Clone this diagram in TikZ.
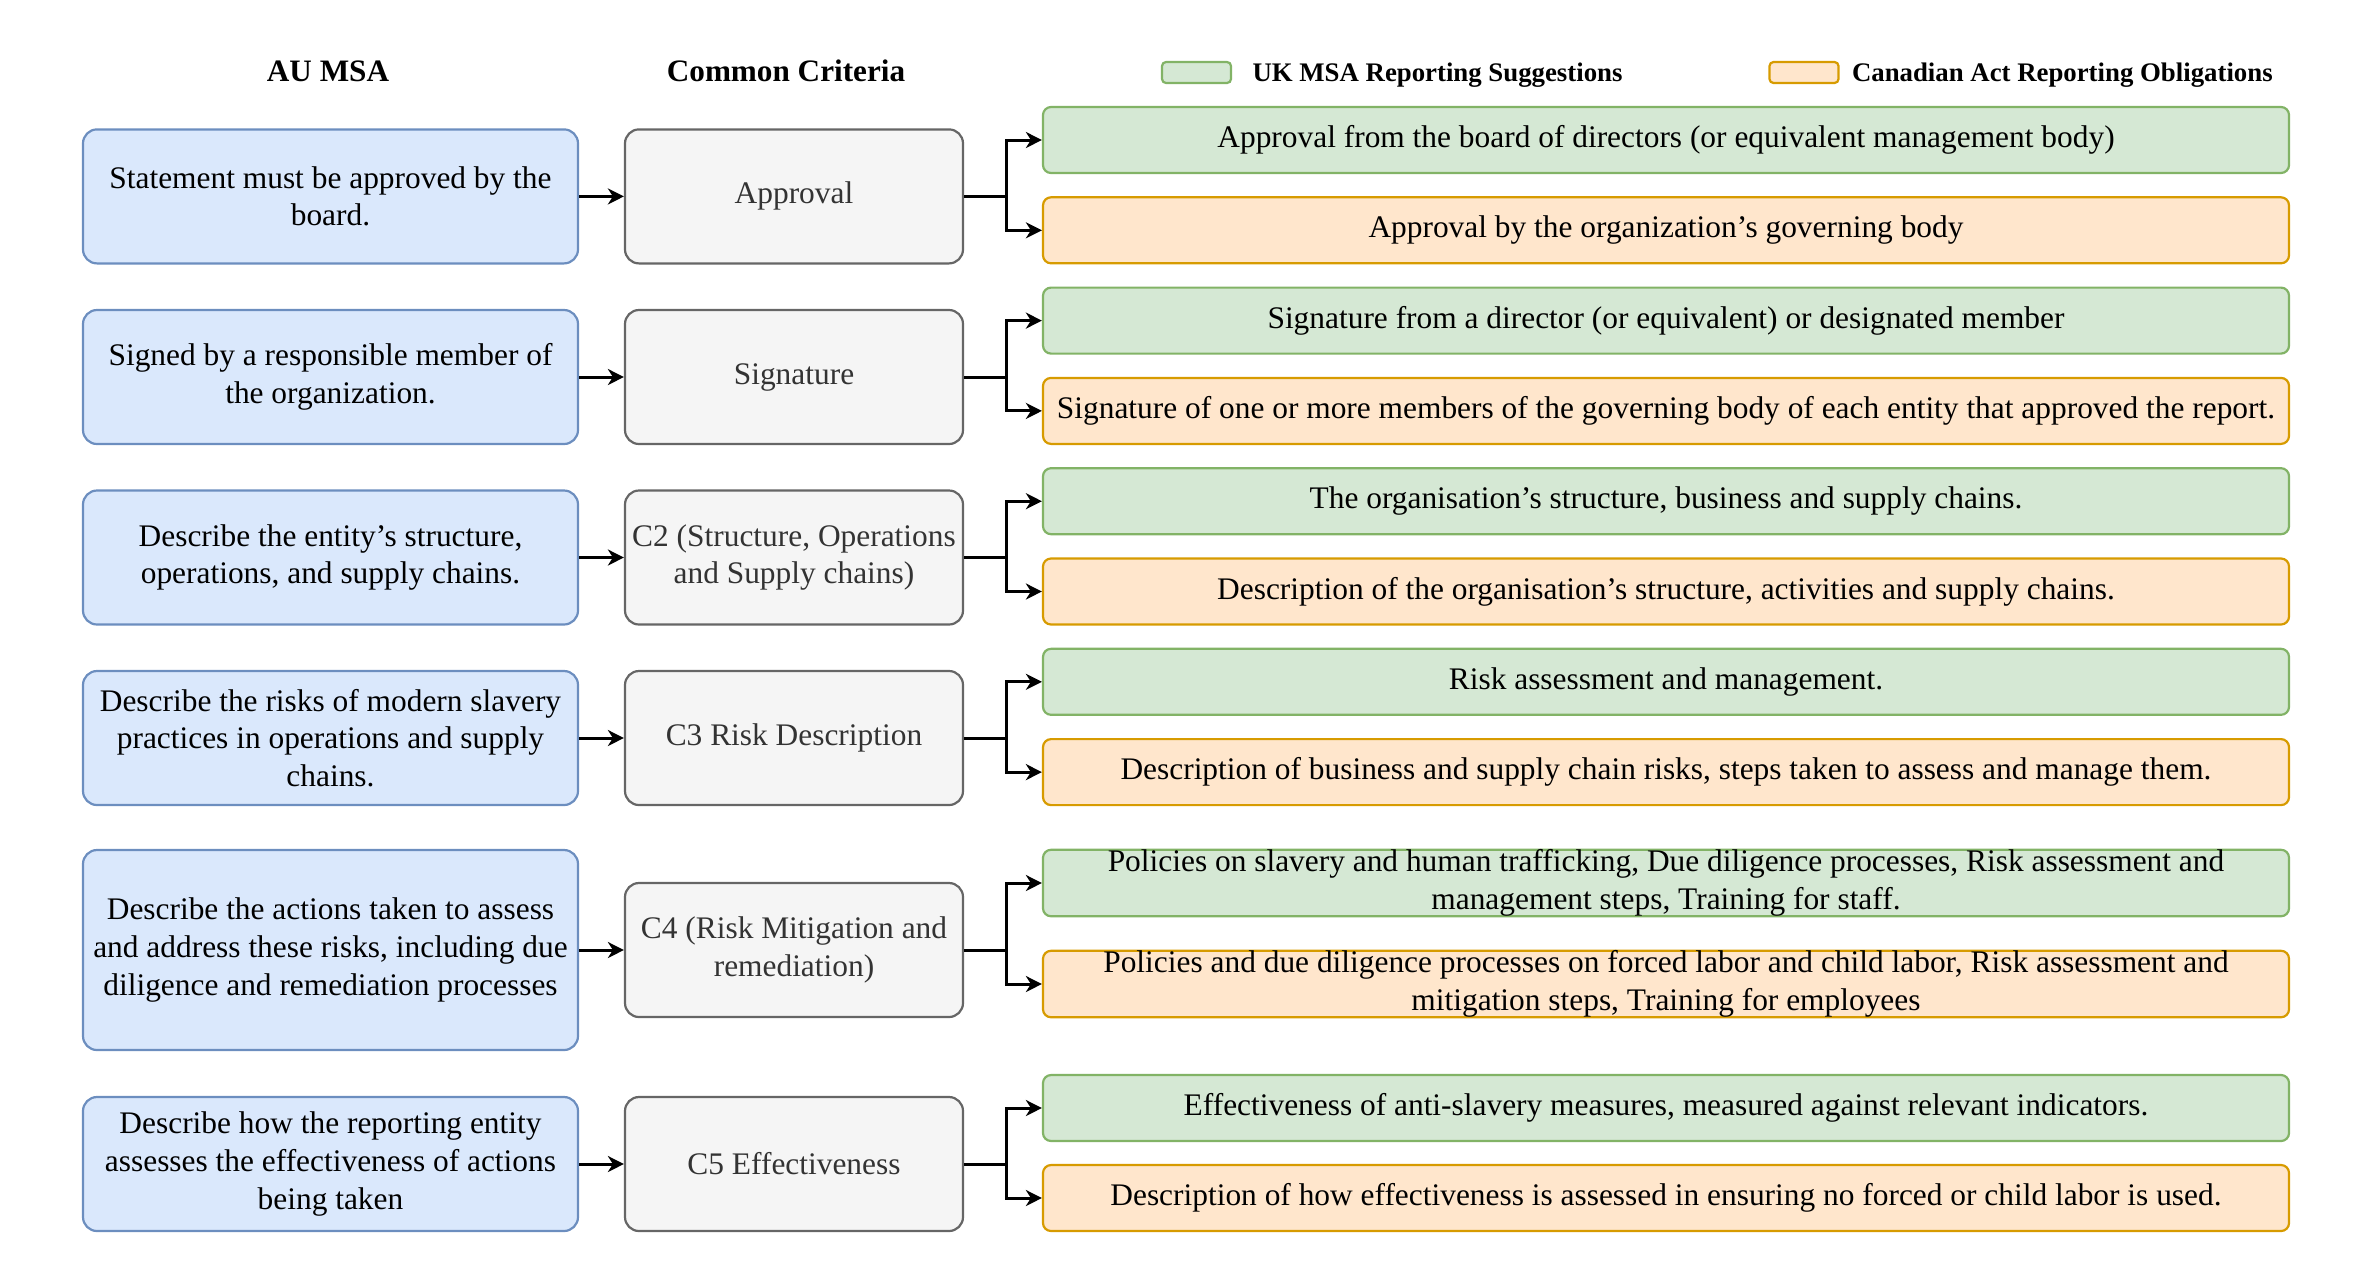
\documentclass[tikz,border=0pt]{standalone}
\usepackage{fontspec}
\setmainfont{Liberation Serif}
\newfontfamily\boxfont{Liberation Serif}
\usetikzlibrary{arrows.meta,positioning}
\definecolor{aufill}{HTML}{DAE8FC} \definecolor{audraw}{HTML}{6C8EBF}
\definecolor{ccfill}{HTML}{F5F5F5} \definecolor{ccdraw}{HTML}{666666} \definecolor{cctext}{HTML}{333333}
\definecolor{ukfill}{HTML}{D5E8D4} \definecolor{ukdraw}{HTML}{82B366}
\definecolor{cafill}{HTML}{FFE6CC} \definecolor{cadraw}{HTML}{D79B00}
\begin{document}
\begin{tikzpicture}[x=0.5pt,y=-0.5pt]
	% Define the styles for the boxes and arrows
	\tikzstyle{basebox}=[rounded corners=7pt, line width=1.1pt, align=center, inner xsep=2pt,
	inner ysep=0pt, font=\boxfont\fontsize{15.7pt}{18.8pt}\selectfont]
	\tikzstyle{aubox}=[basebox, fill=aufill, draw=audraw, minimum width=247.5pt, minimum height=67pt]
	\tikzstyle{ccbox}=[basebox, fill=ccfill, draw=ccdraw, text=cctext, minimum width=169pt, minimum height=67pt]
	\tikzstyle{ukbox}=[basebox, fill=ukfill, draw=ukdraw, minimum width=623pt, minimum height=33pt, rounded corners=4pt]
	\tikzstyle{cabox}=[basebox, fill=cafill, draw=cadraw, minimum width=623pt, minimum height=33pt, rounded corners=4pt]
	\tikzstyle{head}=[font=\boxfont\fontsize{15.6pt}{18pt}\selectfont\bfseries]
	\tikzstyle{legtext}=[font=\boxfont\fontsize{13.4pt}{15pt}\selectfont\bfseries, inner sep=0pt, yshift=-1.5pt]
	\tikzstyle{arr}=[-{Stealth[length=8pt,width=8pt,inset=2.5pt]}, line width=1.5pt]
	
	\useasboundingbox (0,0) rectangle (2360,1266);
	
	% Column headers and legend
	\node[head] (hau) at (328,71) {AU MSA}; \node[head] (hcc) at (786,71) {Common Criteria};
	\node[ukbox, minimum width=34.5pt, minimum height=10.5pt, rounded corners=2pt] (lguk) at (1196.5,72.5) {};
	\node[legtext, right=10pt of lguk] (tuk) {UK MSA Reporting Suggestions};
	\node[cabox, minimum width=34.5pt, minimum height=10.5pt, rounded corners=2pt] (lgca) at (1804,72.5) {};
	\node[legtext, right=6pt of lgca] (tca) {Canadian Act Reporting Obligations};
	
	% AU MSA boxes
	\node[aubox] (au1) at (330.5,196.4) {Statement must be approved by the\\board.};
	\node[aubox] (au2) at (330.5,377) {Signed by a responsible member of\\the organization.};
	\node[aubox] (au3) at (330.5,557.5) {Describe the entity’s structure,\\operations, and supply chains.};
	\node[aubox] (au4) at (330.5,738) {Describe the risks of modern slavery\\practices in operations and supply\\chains.};
	\node[aubox, minimum height=100pt] (au5) at (330.5,950) {Describe the actions taken to assess\\and address these risks, including due\\diligence and remediation processes};
	\node[aubox] (au6) at (330.5,1164) {Describe how the reporting entity\\assesses the effectiveness of actions\\being taken};
	
	% Common criteria boxes
	\node[ccbox] (cc1) at (794,196.4) {Approval};
	\node[ccbox] (cc2) at (794,377) {Signature};
	\node[ccbox] (cc3) at (794,557.5) {C2 (Structure, Operations\\and Supply chains)};
	\node[ccbox] (cc4) at (794,738) {C3 Risk Description};
	\node[ccbox] (cc5) at (794,950) {C4 (Risk Mitigation and\\remediation)};
	\node[ccbox] (cc6) at (794,1164) {C5 Effectiveness};
	
	% UK MSA and Canadian Act boxes
	\node[ukbox] (uk1) at (1666,140) {Approval from the board of directors (or equivalent management body)};
	\node[cabox] (ca1) at (1666,230.3) {Approval by the organization’s governing body};
	\node[ukbox] (uk2) at (1666,320.6) {Signature from a director (or equivalent) or designated member};
	\node[cabox] (ca2) at (1666,410.9) {Signature of one or more members of the governing body of each entity that approved the report.};
	\node[ukbox] (uk3) at (1666,501.2) {The organisation’s structure, business and supply chains.};
	\node[cabox] (ca3) at (1666,591.5) {Description of the organisation’s structure, activities and supply chains.};
	\node[ukbox] (uk4) at (1666,681.8) {Risk assessment and management.};
	\node[cabox] (ca4) at (1666,772.1) {Description of business and supply chain risks, steps taken to assess and manage them.};
	\node[ukbox] (uk5) at (1666,883) {Policies on slavery and human trafficking, Due diligence processes, Risk assessment and\\management steps, Training for staff.};
	\node[cabox] (ca5) at (1666,984) {Policies and due diligence processes on forced labor and child labor, Risk assessment and\\mitigation steps, Training for employees};
	\node[ukbox] (uk6) at (1666,1108) {Effectiveness of anti-slavery measures, measured against relevant indicators.};
	\node[cabox] (ca6) at (1666,1198) {Description of how effectiveness is assessed in ensuring no forced or child labor is used.};
	
	% Arrows between the columns
	\foreach \i in {1,...,6} {
		\draw[arr] (au\i) -- (cc\i);
		\draw[arr] (cc\i.east) -- ++(42,0) |- (uk\i.west);
		\draw[arr] (cc\i.east) -- ++(42,0) |- (ca\i.west);
	}
\end{tikzpicture}
\end{document}
